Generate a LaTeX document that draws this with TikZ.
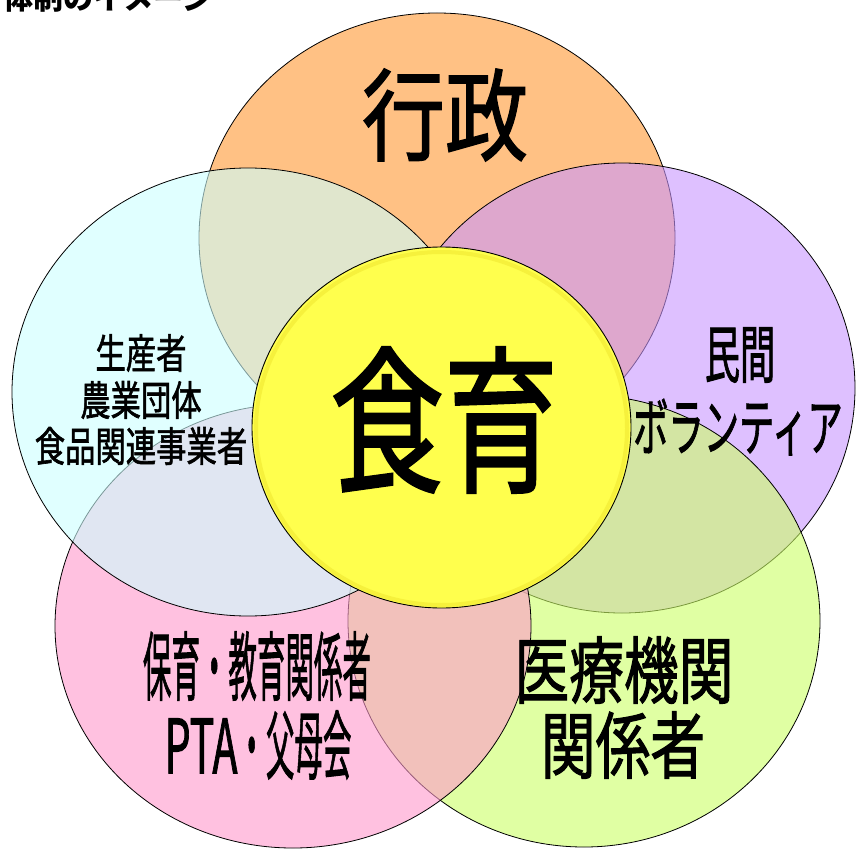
\documentclass[tikz,border=0pt]{standalone}
\usepackage{fontspec}
\usetikzlibrary{shapes.geometric}
\newfontfamily\jp{Noto Sans CJK JP}[FakeBold=1.6]
\newfontfamily\jpt{Noto Sans CJK JP}
\definecolor{cOrange}{RGB}{255,153,51}
\definecolor{cPurple}{RGB}{200,150,255}
\definecolor{cGreen}{RGB}{204,255,102}
\definecolor{cPink}{RGB}{255,153,204}
\definecolor{cCyan}{RGB}{204,255,255}
\definecolor{cYellow}{RGB}{255,255,77}
\definecolor{cRim}{RGB}{240,232,50}
\newcommand\jtxt[3]{\scalebox{#2}[1]{\fontsize{#1}{#1}\selectfont #3}}
\begin{document}
\begin{tikzpicture}[x=1pt,y=-1pt,
  blob/.style={ellipse, draw=black, line width=0.8pt, fill opacity=0.6, inner sep=0pt},
  core/.style={ellipse, draw=black, line width=0.9pt, fill=cYellow, inner sep=0pt},
  txt/.style={inner sep=0pt, font=\jp, text=black}]
\clip (0,0) rectangle (856,850);
\fill[white] (0,0) rectangle (856,850);
% outer circles (drawing order matters for overlaps)
\node[blob, fill=cOrange, minimum width=476pt, minimum height=450pt] (gyosei) at (437,238) {};
\node[blob, fill=cPurple, minimum width=466pt, minimum height=450pt] (minkan) at (622,388) {};
\node[blob, fill=cGreen,  minimum width=472pt, minimum height=452pt] (iryo)   at (584,621) {};
\node[blob, fill=cPink,   minimum width=476pt, minimum height=444pt] (hoiku)  at (293,626) {};
\node[blob, fill=cCyan,   minimum width=472pt, minimum height=448pt] (seisan) at (248,392) {};
% centre circle
\node[core, minimum width=379pt, minimum height=361pt] (shokuiku) at (441.5,427.5) {};
\node[ellipse, draw=cRim, line width=4pt, draw opacity=0.6, minimum width=371pt, minimum height=353pt, inner sep=0pt] (rim) at (441.5,428.5) {};
% title (cut off at the top, as in the original)
\node[inner sep=0pt, anchor=west, font=\jpt\bfseries] (title) at (3,-2) {\fontsize{30}{30}\selectfont 体制のイメージ};
% labels
\node[txt] (t1) at (445,115) {\jtxt{100}{0.83}{行政}};
\node[txt] (t2) at (444,420) {\jtxt{158}{0.72}{食育}};
\node[txt] (t3a) at (141,353) {\jtxt{41}{0.74}{生産者}};
\node[txt] (t3b) at (141,400) {\jtxt{41}{0.74}{農業団体}};
\node[txt] (t3c) at (141,446) {\jtxt{41}{0.74}{食品関連事業者}};
\node[txt] (t4a) at (740,355) {\jtxt{63}{0.56}{民間}};
\node[txt] (t4b) at (738,427) {\jtxt{63}{0.56}{ボランティア}};
\node[txt] (t5a) at (257,666) {\jtxt{75}{0.38}{保育・教育関係者}};
\node[txt] (t5b) at (258,745) {\jtxt{75}{0.55}{PTA}\jtxt{75}{0.38}{・父母会}};
\node[txt] (t6a) at (624,670) {\jtxt{73}{0.75}{医療機関}};
\node[txt] (t6b) at (623,745) {\jtxt{73}{0.75}{関係者}};
\end{tikzpicture}
\end{document}
